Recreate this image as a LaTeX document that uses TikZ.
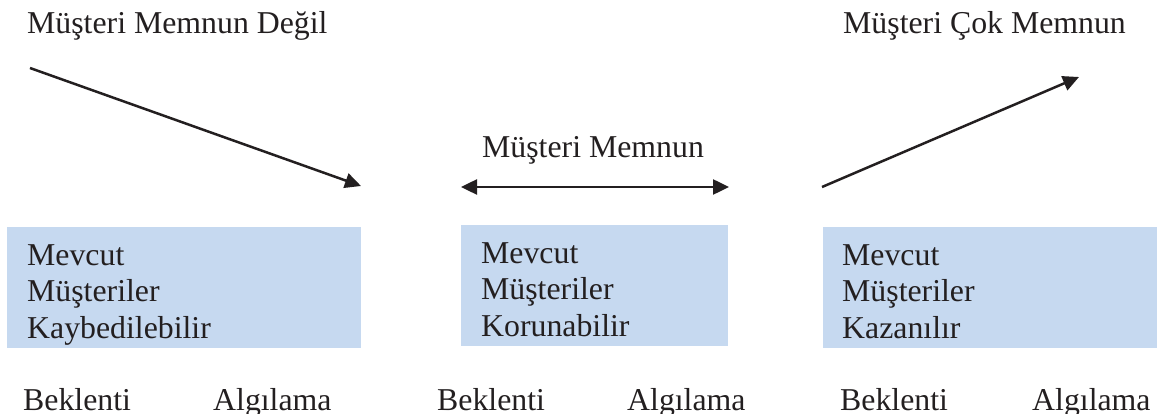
\documentclass[tikz,border=0pt]{standalone}
\usepackage{fontspec}
\setmainfont{Liberation Serif}
\usetikzlibrary{arrows.meta}
\definecolor{boxblue}{RGB}{198,217,240}
\definecolor{ink}{RGB}{35,31,32}
\tikzset{
  lbl/.style={inner sep=0pt, anchor=base west, text=ink, font=\fontsize{31.8}{36.5}\selectfont},
  boxtext/.style={lbl, align=left},
  panel/.style={fill=boxblue, draw=none},
  conn/.style={draw=ink, line width=2.5pt, -{Triangle[length=16pt,width=15pt]}},
  dconn/.style={draw=ink, line width=2.5pt, {Triangle[length=16pt,width=15pt]}-{Triangle[length=16pt,width=15pt]}}
}
\begin{document}
\begin{tikzpicture}[x=1pt,y=-1pt]
\useasboundingbox (0,0) rectangle (1159,414);
% boxes
\path[panel] (7,227) rectangle (361,348);
\path[panel] (461,225) rectangle (728,346);
\path[panel] (823,227) rectangle (1157,348);
% base anchor of a multi-line node = baseline of its last line
\node[boxtext] (b1) at (27,338) {Mevcut\\Müşteriler\\Kaybedilebilir};
\node[boxtext] (b2) at (481,336) {Mevcut\\Müşteriler\\Korunabilir};
\node[boxtext] (b3) at (842,338) {Mevcut\\Müşteriler\\Kazanılır};
% top labels
\node[lbl] (t1) at (27,34) {Müşteri Memnun Değil};
\node[lbl] (t2) at (482,158) {Müşteri Memnun};
\node[lbl] (t3) at (843,34) {Müşteri Çok Memnun};
% arrows
\coordinate (a1s) at (30,68);
\coordinate (a1e) at (361,186);
\coordinate (a2s) at (461,187);
\coordinate (a2e) at (729,187);
\coordinate (a3s) at (822,187);
\coordinate (a3e) at (1079,77);
\draw[conn] (a1s) -- (a1e);
\draw[dconn] (a2s) -- (a2e);
\draw[conn] (a3s) -- (a3e);
% bottom labels
\node[lbl] (e1) at (23,410) {Beklenti};
\node[lbl] (p1) at (213,410) {Algılama};
\node[lbl] (e2) at (437,410) {Beklenti};
\node[lbl] (p2) at (627,410) {Algılama};
\node[lbl] (e3) at (840,410) {Beklenti};
\node[lbl] (p3) at (1032,410) {Algılama};
\end{tikzpicture}
\end{document}
